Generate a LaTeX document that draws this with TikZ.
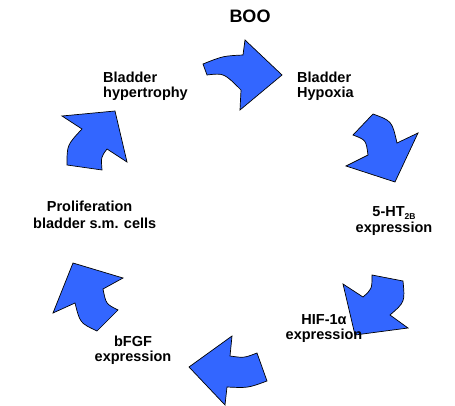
\documentclass[tikz,border=0pt]{standalone}
\usepackage{fontspec}
\setmainfont{Liberation Sans}
\definecolor{arrowblue}{RGB}{51,102,255}
\begin{document}
\begin{tikzpicture}[x=1pt,y=-1pt,
  blockarrow/.style={draw=black, line width=0.7pt, fill=arrowblue, line join=miter},
  txt/.style={font=\bfseries\fontsize{14.5}{14.5}\selectfont, inner sep=0pt, anchor=base}]
\useasboundingbox (0,0) rectangle (455,406);
% arrows
\draw[blockarrow] (203,64) .. controls (223,56) .. (243,55) -- (245,40) -- (282,75) -- (240,110) -- (241,90) .. controls (224,73) .. (207,75) -- cycle;
\draw[blockarrow] (373,114) .. controls (392,121) .. (397,143) -- (418,133) -- (395,182) -- (346,166) -- (368,155) .. controls (366,140) .. (353,135) -- cycle;
\draw[blockarrow] (372,275) -- (403,281) .. controls (405,302) .. (390,315) -- (408,328) -- (355,335) -- (343,284) -- (363,297) .. controls (372,289) .. (372,275) -- cycle;
\draw[blockarrow] (257,353) -- (267,381) .. controls (248,388) .. (227,387) -- (225,405) -- (189,367) -- (232,336) -- (230,356) .. controls (244,358) .. (257,353) -- cycle;
\draw[blockarrow] (53,313) -- (73,263) -- (123,278) -- (103,289) .. controls (106,304) .. (118,310) -- (97,331) .. controls (80,323) .. (75,303) -- cycle;
\draw[blockarrow] (62,116) -- (115,111) -- (127,162) -- (107,149) .. controls (101,157) .. (102,170) -- (67,165) .. controls (67,145) .. (82,129) -- cycle;
% texts (base anchor = baseline of the last line)
\node[txt, font=\bfseries\fontsize{18}{20}\selectfont] (boo) at (250,23) {BOO};
\node[txt, anchor=base west, align=left] (hyper) at (103,97.5) {Bladder\\hypertrophy};
\node[txt, anchor=base west, align=left] (hypox) at (297,97.5) {Bladder\\Hypoxia};
\node[txt, anchor=base west, align=left, font=\bfseries\fontsize{14.5}{16.5}\selectfont] (prolif) at (33,228.3) {\hspace*{13.7pt}Proliferation\\bladder s.m. cells};
\node[txt, align=center, font=\bfseries\fontsize{14.5}{15.5}\selectfont] (ht) at (394,232.3) {5-HT\raisebox{-2.5pt}{\fontsize{8.5}{8.5}\selectfont 2B}\\expression};
\node[txt, align=center] (hif) at (324,339) {HIF-1α\\expression};
\node[txt, align=center] (fgf) at (133,361) {bFGF\\expression};
\end{tikzpicture}
\end{document}
